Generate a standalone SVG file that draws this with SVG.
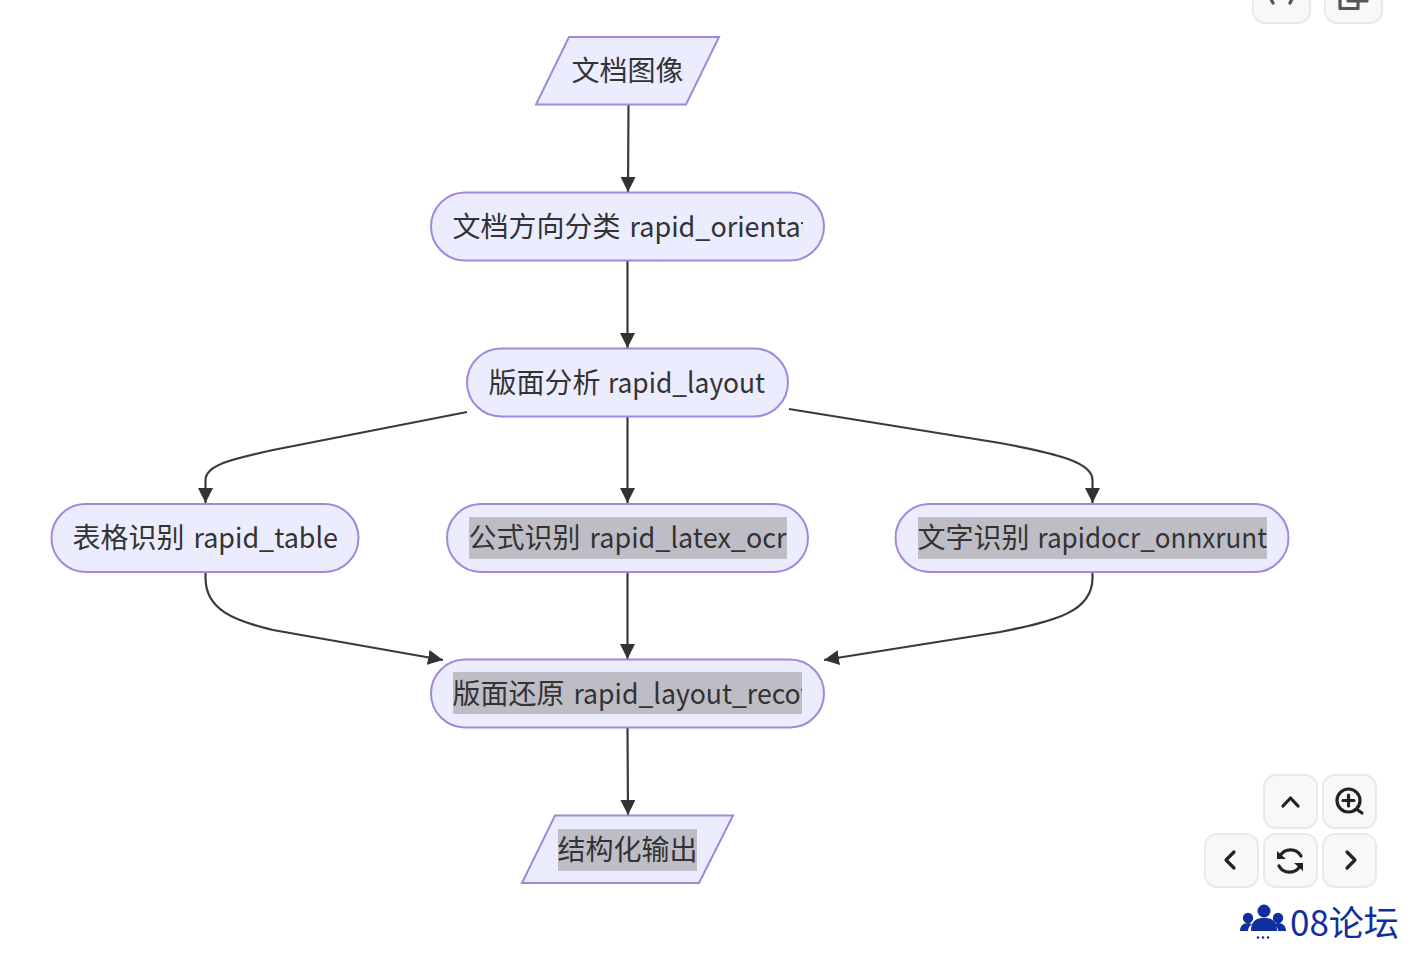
<svg xmlns="http://www.w3.org/2000/svg" width="1419" height="953" viewBox="0 0 1419 953">
<style>
.n{fill:#ECECFF;stroke:#A088DC;stroke-width:2}
.t{font-family:"Noto Sans CJK SC",sans-serif;font-size:28px;fill:#333;text-anchor:start}
.h{fill:#BEBDC6}
.e{fill:none;stroke:#3a3a3a;stroke-width:2.2}
.b{fill:#F7F8FA;stroke:#E8E9ED;stroke-width:2}
.i{fill:none;stroke:#222;stroke-width:3.2;stroke-linecap:round;stroke-linejoin:round}
</style>
<defs>
<marker id="a" markerUnits="userSpaceOnUse" markerWidth="17" markerHeight="16" refX="15" refY="7.500" orient="auto"><path d="M0 0L15 7.500L0 15Z" fill="#333"/></marker>
<clipPath id="c1"><rect x="453" y="200" width="350" height="52"/></clipPath>
<clipPath id="c2"><rect x="453" y="672" width="349" height="42"/></clipPath>
</defs>
<g id="connectors">
<path class="e" marker-end="url(#a)" d="M628.500 105L628 192"/>
<path class="e" marker-end="url(#a)" d="M627.500 261V348"/>
<path class="e" marker-end="url(#a)" d="M467 412L273 450C232 459 205.500 465 205.500 480V503"/>
<path class="e" marker-end="url(#a)" d="M627.500 417V503"/>
<path class="e" marker-end="url(#a)" d="M789 409L1000 443C1060 454 1092.500 463 1092.500 480V503"/>
<path class="e" marker-end="url(#a)" d="M205.500 572V578C205.500 610 235 621 273 630L443 660"/>
<path class="e" marker-end="url(#a)" d="M627.500 573V659"/>
<path class="e" marker-end="url(#a)" d="M1092.500 572V578C1092.500 612 1055 621 1000 632L824 660"/>
<path class="e" marker-end="url(#a)" d="M627.500 728L628 815"/>
</g>
<g id="n1"><polygon class="n" points="569,37 719,37 686,104.500 536,104.500"/><text class="t" x="571.500" y="81">文档图像</text></g>
<g id="n2"><rect class="n" x="431" y="192.500" width="393" height="68" rx="34"/><text class="t" x="452.500" y="237" clip-path="url(#c1)">文档方向分类 <tspan x="629.500" textLength="181" lengthAdjust="spacingAndGlyphs">rapid_orientat</tspan></text></g>
<g id="n3"><rect class="n" x="467" y="348.500" width="321" height="68" rx="34"/><text class="t" x="488.500" y="393">版面分析 <tspan x="608" textLength="157" lengthAdjust="spacingAndGlyphs">rapid_layout</tspan></text></g>
<g id="n4"><rect class="n" x="51.500" y="504" width="307" height="68" rx="34"/><text class="t" x="72.500" y="548">表格识别 <tspan x="193.500" textLength="144.500" lengthAdjust="spacingAndGlyphs">rapid_table</tspan></text></g>
<g id="n5"><rect class="n" x="447" y="504" width="361" height="68" rx="34"/><rect class="h" x="469" y="517" width="318" height="42"/><text class="t" x="468.500" y="548">公式识别 <tspan x="589.500" textLength="197" lengthAdjust="spacingAndGlyphs">rapid_latex_ocr</tspan></text></g>
<g id="n6"><rect class="n" x="895.500" y="504" width="393" height="68" rx="34"/><rect class="h" x="918" y="517" width="349" height="42"/><text class="t" x="917.500" y="548">文字识别 <tspan x="1037.500" textLength="229.500" lengthAdjust="spacingAndGlyphs">rapidocr_onnxrunt</tspan></text></g>
<g id="n7"><rect class="n" x="431" y="659.500" width="393" height="68" rx="34"/><rect class="h" x="453" y="672" width="349" height="42"/><text class="t" x="452.500" y="704" clip-path="url(#c2)">版面还原 <tspan x="573.500" textLength="241" lengthAdjust="spacingAndGlyphs">rapid_layout_recov</tspan></text></g>
<g id="n8"><polygon class="n" points="555,815.500 733,815.500 699,883 522,883"/><rect class="h" x="558" y="829" width="139" height="42"/><text class="t" x="557.500" y="860">结构化输出</text></g>
<rect class="b" x="1253" y="-30" width="57" height="53" rx="12"/>
<rect class="b" x="1325" y="-30" width="57" height="53" rx="12"/>
<path d="M1271 -1L1273 3M1292 -1L1290 3" class="i" style="stroke:#555"/>
<path d="M1340 0V8.500H1358V3M1348 1H1367" class="i" style="stroke:#555"/>
<rect class="b" x="1264" y="775" width="53" height="53" rx="12"/>
<rect class="b" x="1323" y="775" width="53" height="53" rx="12"/>
<rect class="b" x="1205" y="834" width="53" height="53" rx="12"/>
<rect class="b" x="1264" y="834" width="53" height="53" rx="12"/>
<rect class="b" x="1323" y="834" width="53" height="53" rx="12"/>
<path class="i" d="M1283 806L1290.500 798L1298 806"/>
<circle class="i" cx="1348.500" cy="800.500" r="11.500"/><path class="i" d="M1343 800.500H1354M1348.500 795V806M1357 809.500L1362 813"/>
<path class="i" d="M1234 852L1226 860L1234 868"/>
<path class="i" d="M1347 852L1355 860L1347 868"/>
<path class="i" d="M1301 856A12 12 0 0 0 1280 856M1279 866A12 12 0 0 0 1300 866"/>
<path d="M1277 851V859H1286ZM1303 871V863H1294Z" fill="#222"/>
<g fill="#0F2FA0">
<circle cx="1264" cy="911" r="6.500"/><circle cx="1248" cy="918" r="5.200"/><circle cx="1278" cy="918" r="5.200"/>
<path d="M1251 931C1251 920 1257 918 1264 918C1271 918 1277 920 1277 931Z"/>
<path d="M1240 931C1240 926 1243 923 1248 923C1250 923 1251 924 1252 924C1249 926 1248 929 1248 931ZM1286 931C1286 926 1283 923 1278 923C1276 923 1275 924 1274 924C1277 926 1278 929 1278 931Z"/>
<circle cx="1258" cy="937.500" r="1.300"/><circle cx="1263" cy="937.500" r="1.300"/><circle cx="1268" cy="937.500" r="1.300"/>
<text x="1290" y="936" style="font-family:'Noto Sans CJK SC',sans-serif;font-size:35px">08论坛</text>
</g>
</svg>
